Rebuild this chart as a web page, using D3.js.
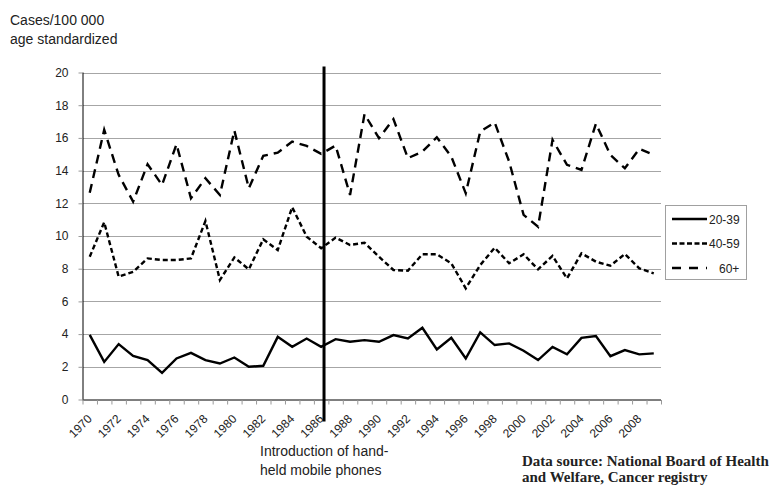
<!DOCTYPE html>
<html>
<head>
<meta charset="utf-8">
<script src="https://cdn.jsdelivr.net/npm/d3@7"></script>
<style>
  html, body { margin: 0; padding: 0; background: #fff; }
  svg { display: block; }
</style>
</head>
<body>
<svg id="chart" width="784" height="485"></svg>
<script>
const years = d3.range(1970, 2010);
const tickYears = d3.range(1970, 2010, 2);
const yTicks = [0, 2, 4, 6, 8, 10, 12, 14, 16, 18, 20];

const age20_39 = [3.95, 2.30, 3.39, 2.67, 2.41, 1.63, 2.51, 2.85, 2.41, 2.20,
                  2.57, 2.00, 2.06, 3.83, 3.22, 3.73, 3.22, 3.69, 3.53, 3.63,
                  3.53, 3.94, 3.73, 4.39, 3.06, 3.77, 2.51, 4.10, 3.33, 3.43,
                  2.98, 2.41, 3.22, 2.76, 3.77, 3.88, 2.65, 3.02, 2.76, 2.82];
const age40_59 = [8.73, 10.84, 7.51, 7.81, 8.63, 8.53, 8.53, 8.63, 10.92, 7.31,
                  8.69, 7.96, 9.80, 9.14, 11.76, 9.96, 9.25, 9.90, 9.45, 9.59,
                  8.73, 7.92, 7.88, 8.88, 8.88, 8.33, 6.80, 8.22, 9.28, 8.33,
                  8.88, 7.96, 8.78, 7.41, 8.94, 8.43, 8.18, 8.90, 8.02, 7.71];
const age60plus = [12.65, 16.49, 13.74, 12.10, 14.39, 13.12, 15.61, 12.31, 13.53, 12.51,
                   16.45, 12.92, 14.90, 15.10, 15.77, 15.51, 15.02, 15.53, 12.51, 17.45,
                   15.98, 17.15, 14.76, 15.16, 16.04, 14.86, 12.61, 16.39, 16.94, 14.55,
                   11.29, 10.57, 15.88, 14.35, 14.04, 16.87, 14.96, 14.14, 15.33, 14.96];

const seriesNames = ["20-39", "40-59", "60+"];
const seriesValues = [age20_39, age40_59, age60plus];
const seriesDash = [null, "5,3", "9,6"];

const markerYear = 1986;
const yTitle = ["Cases/100 000", "age standardized"];
const annotation = ["Introduction of hand-", "held mobile phones"];
const sourceText = ["Data source: National Board of Health", "and Welfare, Cancer registry"];

(function () {
const svg = d3.select("#chart");
const L = 82.5, R = 661, T = 72.5, B = 399.5;

const x = d3.scaleBand().domain(years).range([L, R]).padding(0);
const cx = d => x(d) + x.bandwidth() / 2;
const y = d3.scaleLinear().domain([0, 20]).range([B, T]);

// gridlines
svg.append("g").selectAll("line").data(yTicks.filter(t => t > 0)).join("line")
  .attr("x1", L).attr("x2", R)
  .attr("y1", d => Math.round(y(d)) + 0.5).attr("y2", d => Math.round(y(d)) + 0.5)
  .attr("stroke", "#a6a6a6").attr("stroke-width", 1);

// y axis
const yAxis = svg.append("g").attr("transform", `translate(${L},0)`)
  .call(d3.axisLeft(y).tickValues(yTicks).tickSize(4).tickPadding(10));
yAxis.select(".domain").attr("stroke", "#000").attr("d", `M0.5,${T}V${B}`);
yAxis.selectAll(".tick line").attr("stroke", "#999");
yAxis.selectAll(".tick text").attr("font-family", "Liberation Sans, Arial, sans-serif")
  .attr("font-size", 12).attr("fill", "#222");

// x axis
const xAxis = svg.append("g").attr("transform", `translate(0,${B})`)
  .call(d3.axisBottom(x).tickValues(tickYears).tickSize(0).tickPadding(0));
xAxis.select(".domain").attr("stroke", "#000").attr("d", `M${L},0.5H${R}`);
xAxis.selectAll(".tick text")
  .attr("font-family", "Liberation Sans, Arial, sans-serif")
  .attr("font-size", 12).attr("fill", "#222")
  .attr("text-anchor", "end")
  .attr("x", 0).attr("y", 0).attr("dy", 0)
  .attr("transform", "translate(3,20) rotate(-45)");
// boundary ticks
svg.append("g").selectAll("line").data(years.concat([2010])).join("line")
  .attr("x1", d => (d === 2010 ? R : x(d)) + 0.5)
  .attr("x2", d => (d === 2010 ? R : x(d)) + 0.5)
  .attr("y1", B + 0.5).attr("y2", B + 5)
  .attr("stroke", "#999").attr("stroke-width", 1);

// series lines
const line = d3.line().x((d, i) => cx(years[i])).y(d => y(d));
seriesValues.forEach((vals, k) => {
  svg.append("path").datum(vals)
    .attr("d", line)
    .attr("fill", "none").attr("stroke", "#000")
    .attr("stroke-width", 2.4)
    .attr("stroke-dasharray", seriesDash[k]);
});

// marker line
const mx = cx(markerYear) + x.bandwidth() * 0.2;
svg.append("line").attr("x1", mx).attr("x2", mx)
  .attr("y1", T - 6).attr("y2", B + 22)
  .attr("stroke", "#000").attr("stroke-width", 3);

// y title
svg.append("g").selectAll("text").data(yTitle).join("text")
  .attr("x", 10).attr("y", (d, i) => 25 + i * 19)
  .attr("font-family", "Liberation Sans, Arial, sans-serif")
  .attr("font-size", 14).attr("fill", "#222").text(d => d);

// annotation
svg.append("g").selectAll("text").data(annotation).join("text")
  .attr("x", 260).attr("y", (d, i) => 456 + i * 19)
  .attr("font-family", "Liberation Sans, Arial, sans-serif")
  .attr("font-size", 14).attr("fill", "#222").text(d => d);

// source
svg.append("g").selectAll("text").data(sourceText).join("text")
  .attr("x", 522).attr("y", (d, i) => 466 + i * 16)
  .attr("font-family", "Liberation Serif, Times New Roman, serif")
  .attr("font-weight", "bold")
  .attr("font-size", 15).attr("fill", "#222").text(d => d);

// legend
const lg = svg.append("g");
lg.append("rect").attr("x", 665.5).attr("y", 205.5).attr("width", 81).attr("height", 74)
  .attr("fill", "#fff").attr("stroke", "#a0a0a0");
seriesNames.forEach((name, k) => {
  const ly = 219 + k * 24.5;
  lg.append("line").attr("x1", 672).attr("x2", 707).attr("y1", ly).attr("y2", ly)
    .attr("stroke", "#000").attr("stroke-width", 2.4)
    .attr("stroke-dasharray", k === 1 ? "5,2.5" : (k === 2 ? "9,8" : null));
  lg.append("text").attr("x", k === 2 ? 719 : 709).attr("y", ly + 4.5)
    .attr("font-family", "Liberation Sans, Arial, sans-serif")
    .attr("font-size", 12).attr("fill", "#222").text(name);
});
})();
</script>
</body>
</html>
